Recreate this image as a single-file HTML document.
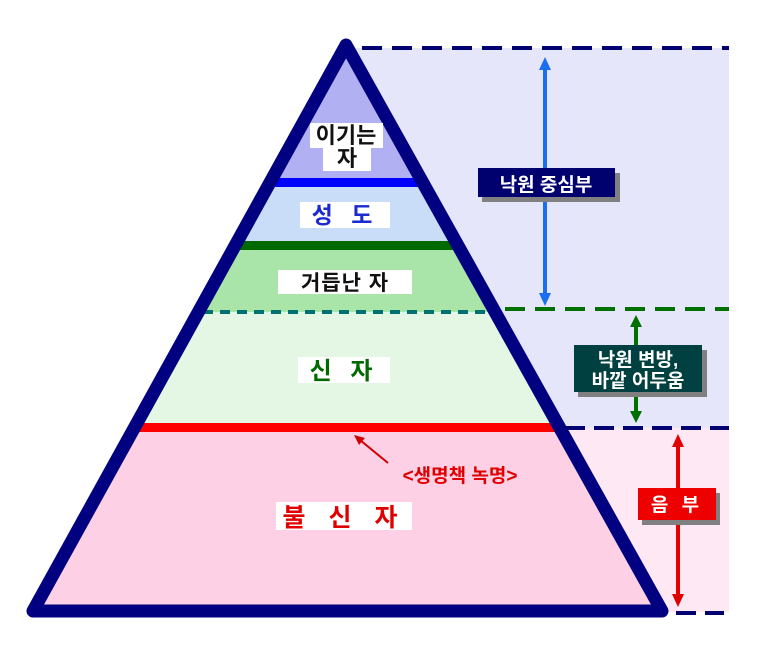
<!DOCTYPE html>
<html><head><meta charset="utf-8"><style>
body{margin:0;background:#fff;}
svg{display:block;}
text{font-family:"Liberation Sans","Noto Sans CJK KR","NanumGothic",sans-serif;font-weight:bold;}
</style></head><body>
<svg width="763" height="649" viewBox="0 0 763 649" xmlns="http://www.w3.org/2000/svg">
<defs>
<clipPath id="tri"><polygon points="346,45 33,611 662,611"/></clipPath>
</defs>
<rect x="355" y="48" width="374" height="262" fill="#e6e6fa"/>
<rect x="355" y="310" width="374" height="118" fill="#e6e6fa"/>
<rect x="355" y="428" width="374" height="184" fill="#fde8f3"/>
<g clip-path="url(#tri)">
<rect x="0" y="40" width="763" height="142" fill="#b0b0f2"/>
<rect x="0" y="178" width="763" height="9" fill="#0000ff"/>
<rect x="0" y="187" width="763" height="55" fill="#c9dcf8"/>
<rect x="0" y="241" width="763" height="9" fill="#006a00"/>
<rect x="0" y="250" width="763" height="62" fill="#a9e5a9"/>
<rect x="0" y="312" width="763" height="112" fill="#e4f7e4"/>
<rect x="0" y="423" width="763" height="9" fill="#ff0000"/>
<rect x="0" y="432" width="763" height="180" fill="#fdd0e6"/>
<line x1="33" y1="312" x2="500" y2="312" stroke="#007070" stroke-width="4" stroke-dasharray="10,7"/>
</g>
<polygon points="346,45 33,611 662,611" fill="none" stroke="#000080" stroke-width="13" stroke-linejoin="round"/>
<line x1="362" y1="48" x2="729" y2="48" stroke="#000070" stroke-width="4" stroke-dasharray="20,10"/>
<line x1="505" y1="309" x2="729" y2="309" stroke="#007000" stroke-width="4" stroke-dasharray="20,10"/>
<line x1="565" y1="428" x2="729" y2="428" stroke="#000070" stroke-width="4" stroke-dasharray="20,9"/>
<line x1="676" y1="613" x2="724" y2="613" stroke="#000070" stroke-width="4" stroke-dasharray="20,9"/>
<line x1="545" y1="68" x2="545" y2="295" stroke="#1a6ff0" stroke-width="4"/>
<polygon points="545,57 539,70 551,70" fill="#1a6ff0"/>
<polygon points="545,306 539,293 551,293" fill="#1a6ff0"/>
<line x1="636" y1="325" x2="636" y2="412" stroke="#007000" stroke-width="4"/>
<polygon points="636,315 630,327 642,327" fill="#007000"/>
<polygon points="636,423 630,411 642,411" fill="#007000"/>
<line x1="678" y1="445" x2="678" y2="596" stroke="#e00000" stroke-width="4"/>
<polygon points="678,434 672,447 684,447" fill="#e00000"/>
<polygon points="678,607 672,594 684,594" fill="#e00000"/>
<rect x="482" y="173" width="138" height="29" fill="#808080"/>
<rect x="478" y="168" width="137" height="29" fill="#00006e"/>
<text x="546" y="191" font-size="19" fill="#fff" text-anchor="middle">낙원 중심부</text>
<rect x="578" y="350" width="129" height="47" fill="#808080"/>
<rect x="574" y="345" width="128" height="47" fill="#004040"/>
<text x="638" y="366" font-size="19" fill="#fff" text-anchor="middle">낙원 변방,</text>
<text x="638" y="387" font-size="19" fill="#fff" text-anchor="middle">바깥 어두움</text>
<rect x="642" y="493" width="78" height="32" fill="#808080"/>
<rect x="638" y="488" width="78" height="32" fill="#ee0000"/>
<text x="677" y="511" font-size="19" fill="#fff" text-anchor="middle" letter-spacing="4">음 부</text>
<rect x="310" y="123" width="73" height="25" fill="#fff"/>
<rect x="323" y="147" width="48" height="24" fill="#fff"/>
<text x="346" y="143" font-size="22" fill="#111" text-anchor="middle">이기는</text>
<text x="347" y="166" font-size="22" fill="#111" text-anchor="middle">자</text>
<rect x="300" y="202" width="90" height="26" fill="#fff"/>
<text x="345" y="223" font-size="23" fill="#1a2ad0" text-anchor="middle" letter-spacing="6">성 도</text>
<rect x="278" y="270" width="134" height="24" fill="#fff"/>
<text x="345" y="290" font-size="21" fill="#111" text-anchor="middle" letter-spacing="1">거듭난 자</text>
<rect x="298" y="357" width="92" height="26" fill="#fff"/>
<text x="344" y="379" font-size="24" fill="#006a00" text-anchor="middle" letter-spacing="6">신 자</text>
<rect x="276" y="502" width="136" height="28" fill="#fff"/>
<text x="344" y="526" font-size="25" fill="#e00000" text-anchor="middle" letter-spacing="8">불 신 자</text>
<text x="460" y="482" font-size="19" fill="#e00000" text-anchor="middle">&lt;생명책 녹명&gt;</text>
<line x1="388" y1="463" x2="360" y2="440" stroke="#d00000" stroke-width="2"/>
<polygon points="354,435 365,438 359,445" fill="#d00000"/>
</svg>
</body></html>
